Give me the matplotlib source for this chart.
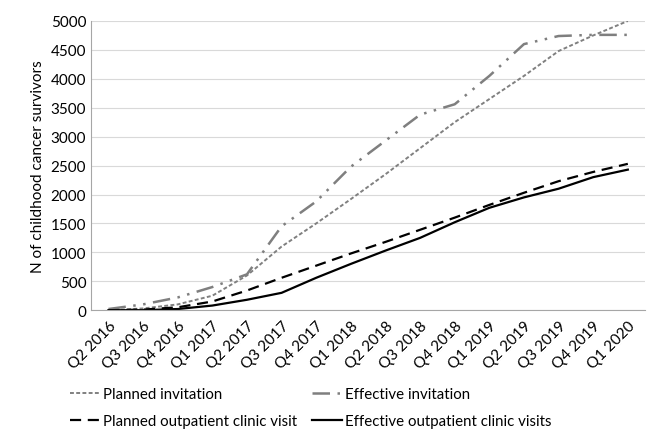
from matplotlib import pyplot as plt

quarters = ['Q2 2016', 'Q3 2016', 'Q4 2016', 'Q1 2017', 'Q2 2017', 'Q3 2017',
            'Q4 2017', 'Q1 2018', 'Q2 2018', 'Q3 2018', 'Q4 2018', 'Q1 2019',
            'Q2 2019', 'Q3 2019', 'Q4 2019', 'Q1 2020']

planned_invitation = [0, 30, 100, 250, 600, 1100, 1500, 1920, 2350, 2800,
                      3250, 3650, 4050, 4480, 4750, 5000]
effective_invitation = [20, 100, 220, 400, 620, 1450, 1880, 2480, 2930, 3380,
                        3560, 4050, 4600, 4740, 4760, 4760]
planned_visit = [0, 10, 50, 150, 340, 560, 770, 980, 1180, 1390,
                 1600, 1820, 2030, 2230, 2390, 2530]
effective_visit = [0, 0, 20, 80, 180, 300, 560, 800, 1030, 1250,
                   1520, 1770, 1950, 2100, 2300, 2430]

plt.rcParams['font.family'] = ['Lato', 'DejaVu Sans']

fig = plt.figure(figsize=(6.51, 4.31), dpi=100)
ax = fig.add_axes([0.14, 0.278, 0.851, 0.671])

x = list(range(len(quarters)))
l1, = ax.plot(x, planned_invitation, color='#808080', lw=1.4, dashes=(2, 1.2),
              label='Planned invitation')
l2, = ax.plot(x, effective_invitation, color='#7f7f7f', lw=1.8,
              dashes=(7, 3, 1, 3, 1, 3), label='Effective invitation')
l3, = ax.plot(x, planned_visit, color='black', lw=1.6, dashes=(5, 3),
              label='Planned outpatient clinic visit')
l4, = ax.plot(x, effective_visit, color='black', lw=1.6,
              label='Effective outpatient clinic visits')

ax.set_xlim(-0.5, len(quarters) - 0.5)
ax.set_ylim(0, 5000)
ax.set_yticks(range(0, 5001, 500))
ax.set_xticks(x)
ax.set_xticklabels(quarters, rotation=45, ha='right', rotation_mode='anchor')
ax.tick_params(axis='both', length=0, labelsize=11, colors='black')
ax.tick_params(axis='x', pad=6)
ax.grid(axis='y', color='#d9d9d9', lw=0.8)
ax.set_axisbelow(True)
for side in ['top', 'right']:
    ax.spines[side].set_visible(False)
ax.spines['left'].set_color('#a6a6a6')
ax.spines['bottom'].set_color('#a6a6a6')
ax.set_ylabel('N of childhood cancer survivors', fontsize=11)

# legend fills column-wise, so order handles to get the reference rows
fig.legend([l1, l3, l2, l4], [l.get_label() for l in [l1, l3, l2, l4]],
           loc='lower left', bbox_to_anchor=(0.104, 0.0), ncol=2,
           frameon=False, fontsize=10.8, handlelength=2.0, handletextpad=0.2,
           columnspacing=1.0, labelspacing=0.85, borderaxespad=0.0,
           borderpad=0.15)

plt.savefig('out.png', dpi=100)
